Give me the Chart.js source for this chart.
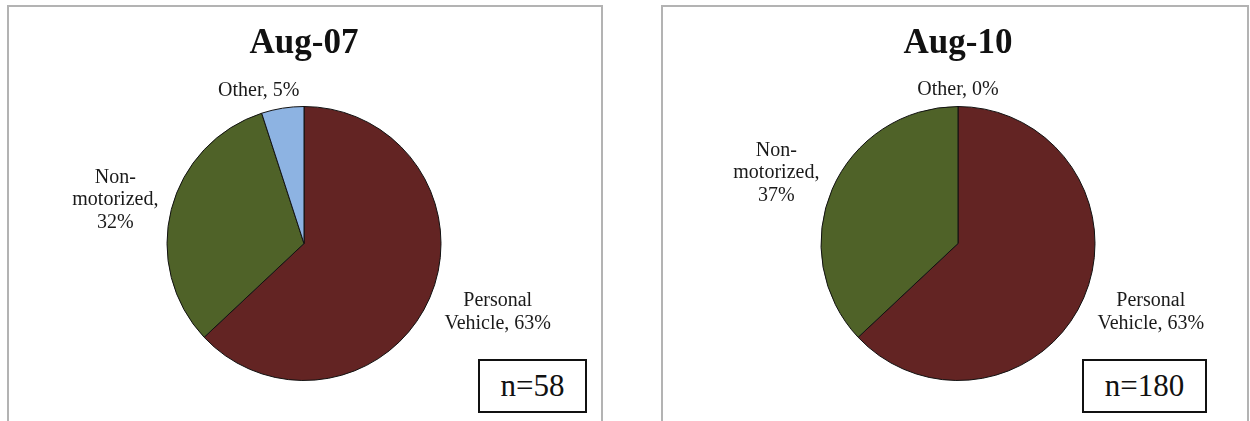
<!DOCTYPE html>
<html lang="en">
<head>
<meta charset="UTF-8">
<title>Modo de viagem - Aug-07 / Aug-10</title>
<script src="https://cdn.jsdelivr.net/npm/chart.js"></script>
<style>
  body { margin: 0; width: 1250px; height: 421px; overflow: hidden; background: #fff; font-family: "Liberation Serif", "Times New Roman", serif; }
  .painel { position: absolute; top: 5px; height: 440px; border: 2px solid #b3b3b3; box-sizing: border-box; }
  #painel1 { left: 7px; width: 596px; }
  #painel2 { left: 661px; width: 588px; }
  canvas { position: absolute; top: 0; }
  .amostra { position: absolute; top: 359px; height: 54px; border: 2px solid #111; box-sizing: border-box; background: #fff;
             font-size: 31px; line-height: 50px; text-align: center; color: #111; }
</style>
</head>
<body>

<!-- molduras dos dois graficos -->
<div class="painel" id="painel1"></div>
<div class="painel" id="painel2"></div>

<canvas id="grafico1" width="625" height="421" style="left:0px"></canvas>
<canvas id="grafico2" width="620" height="421" style="left:625px"></canvas>

<div class="amostra" id="amostra1" style="left:478px; width:109px;"></div>
<div class="amostra" id="amostra2" style="left:1082px; width:125px;"></div>

<script>
  // dados
  const categorias = ['Personal Vehicle', 'Non-motorized', 'Other'];
  const titulos = ['Aug-07', 'Aug-10'];
  const valores2007 = [63, 32, 5];
  const valores2010 = [63, 37, 0];
  const amostras = [58, 180];
  const cores = ['#632423', '#4f6228', '#8db3e2'];

  // quebra o rotulo em linhas (no espaco ou depois do hifen)
  function quebrarTexto(ctx, texto, largura) {
    const linhas = [];
    let atual = '';
    texto.split(' ').forEach(function (palavra) {
      palavra.split(/(?<=-)/).forEach(function (parte, p) {
        const sep = (p === 0 && atual) ? ' ' : '';
        const teste = atual + sep + parte;
        if (atual && ctx.measureText(teste).width > largura) {
          linhas.push(atual);
          atual = parte;
        } else {
          atual = teste;
        }
      });
    });
    if (atual) linhas.push(atual);
    return linhas;
  }

  // rotulos "categoria, valor%" fora das fatias
  const rotulos = {
    id: 'rotulos',
    afterDatasetsDraw(chart, args, opts) {
      const ctx = chart.ctx;
      const arcos = chart.getDatasetMeta(0).data;
      const dados = chart.data.datasets[0].data;
      ctx.save();
      ctx.font = '20px "Liberation Serif"';
      ctx.fillStyle = '#1a1a1a';
      ctx.textAlign = 'center';
      ctx.textBaseline = 'middle';
      arcos.forEach(function (arco, i) {
        const linhas = quebrarTexto(ctx, chart.data.labels[i] + ', ' + dados[i] + '%', 112);
        const pos = opts.posicoes[i];
        const x = arco.x + pos[0] * arco.outerRadius;
        const y = arco.y + pos[1] * arco.outerRadius;
        linhas.forEach(function (l, k) {
          ctx.fillText(l, x, y + (k - (linhas.length - 1) / 2) * 22.5);
        });
      });
      ctx.restore();
    }
  };

  function plotarGrafico(idCanvas, titulo, valores, padding, posicoes) {
    const config = {
      type: 'pie',
      data: {
        labels: categorias,
        datasets: [{
          data: valores,
          backgroundColor: cores,
          borderColor: '#111',
          borderWidth: 1,
          hoverOffset: 0
        }]
      },
      options: {
        responsive: false,
        animation: false,
        events: [],
        layout: { padding: padding },
        plugins: {
          legend: { display: false },
          tooltip: { enabled: false },
          title: {
            display: true,
            text: titulo,
            color: '#111',
            font: { family: 'Liberation Serif', size: 35, weight: 'bold' },
            padding: { top: 23, bottom: 41 }
          },
          rotulos: { posicoes: posicoes }
        }
      },
      plugins: [rotulos]
    };
    return new Chart(document.getElementById(idCanvas), config);
  }

  plotarGrafico('grafico1', titulos[0], valores2007,
    { left: 0, right: 17, top: 0, bottom: 40 },
    [[1.414, 0.50], [-1.377, -0.319], [-0.33, -1.117]]);

  // canvas de 620px: centro da pizza em (46 + 620) / 2 = 333
  plotarGrafico('grafico2', titulos[1], valores2010,
    { left: 46, right: 0, top: 0, bottom: 40 },
    [[1.407, 0.50], [-1.326, -0.513], [0, -1.124]]);

  document.getElementById('amostra1').textContent = 'n=' + amostras[0];
  document.getElementById('amostra2').textContent = 'n=' + amostras[1];
</script>
</body>
</html>
